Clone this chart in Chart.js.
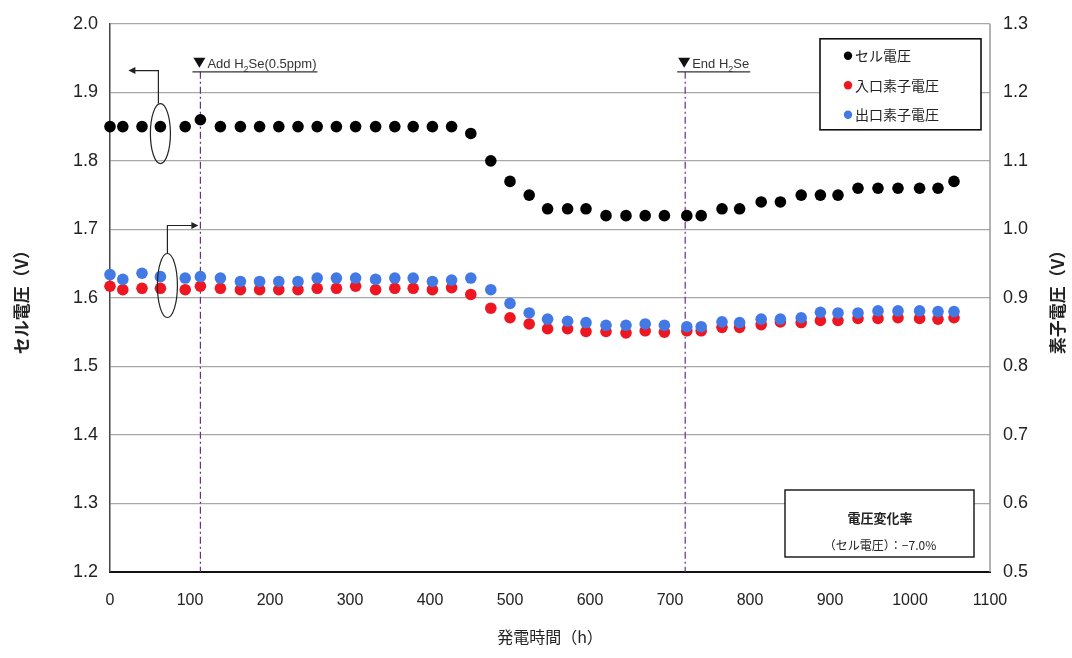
<!DOCTYPE html>
<html>
<head>
<meta charset="utf-8">
<script src="https://cdn.jsdelivr.net/npm/chart.js@4/dist/chart.umd.min.js"></script>
<style>
  html, body { margin: 0; padding: 0; background: #fff; }
  #wrap { width: 1072px; height: 658px; }
</style>
</head>
<body>
<div id="wrap"><canvas id="chart" width="1072" height="658"></canvas></div>
<script>
// ---------- datos ----------
const hours = [0, 16, 40, 63, 94, 113, 138, 163, 187, 211, 235, 259, 283, 307, 332, 356, 379, 403, 427,
  451, 476, 500, 524, 547, 572, 595, 620, 645, 669, 693, 721, 739, 765, 787, 814, 838, 864, 888, 910,
  935, 960, 985, 1012, 1035, 1055];

const cellVoltage = [1.85, 1.85, 1.85, 1.85, 1.85, 1.86, 1.85, 1.85, 1.85, 1.85, 1.85, 1.85, 1.85, 1.85,
  1.85, 1.85, 1.85, 1.85, 1.85, 1.84, 1.80, 1.77, 1.75, 1.73, 1.73, 1.73, 1.72, 1.72, 1.72, 1.72, 1.72,
  1.72, 1.73, 1.73, 1.74, 1.74, 1.75, 1.75, 1.75, 1.76, 1.76, 1.76, 1.76, 1.76, 1.77];

const inletVoltage = [0.917, 0.912, 0.914, 0.914, 0.912, 0.917, 0.914, 0.912, 0.912, 0.912, 0.912, 0.914,
  0.914, 0.917, 0.912, 0.914, 0.914, 0.912, 0.915, 0.905, 0.885, 0.871, 0.862, 0.855, 0.855, 0.851, 0.851,
  0.849, 0.852, 0.850, 0.852, 0.852, 0.857, 0.857, 0.861, 0.865, 0.864, 0.867, 0.867, 0.870, 0.870, 0.871,
  0.870, 0.869, 0.871];

const outletVoltage = [0.934, 0.927, 0.936, 0.931, 0.929, 0.931, 0.929, 0.924, 0.924, 0.924, 0.924, 0.929,
  0.929, 0.929, 0.927, 0.929, 0.929, 0.924, 0.926, 0.929, 0.912, 0.892, 0.878, 0.869, 0.866, 0.864, 0.860,
  0.860, 0.862, 0.860, 0.858, 0.858, 0.865, 0.864, 0.869, 0.869, 0.871, 0.879, 0.878, 0.878, 0.881, 0.881,
  0.881, 0.880, 0.880];

const seriesLabels = ['セル電圧', '入口素子電圧', '出口素子電圧'];
const seriesColors = ['#000000', '#ee1620', '#4279e4'];

const xTickRange = [0, 1100, 100];      // min, max, paso
const cellTickRange = [1.2, 2.0, 0.1];
const elemTickRange = [0.5, 1.3, 0.1];

const eventHours = [113, 719];
const eventTexts = [
  [['Add H', 0], ['2', 1], ['Se(0.5ppm)', 0]],
  [['End H', 0], ['2', 1], ['Se', 0]]
];
const rateTitle = '電圧変化率';
const rateText = '（セル電圧）：−7.0%';
const rightTitle = '素子電圧（V）';

const NUM_FONT = '"Liberation Sans Narrow", "Liberation Sans", Arial, sans-serif';
const JP_FONT = '"Noto Sans CJK JP", sans-serif';

const toPoints = (ys) => hours.map((h, i) => ({ x: h, y: ys[i] }));

// dibuja texto con subíndices
function drawParts(ctx, parts, x, y, size) {
  let cx = x;
  parts.forEach(([t, sub]) => {
    ctx.font = (sub ? size - 4 : size) + 'px ' + NUM_FONT;
    ctx.fillText(t, cx, sub ? y + 4 : y);
    cx += ctx.measureText(t).width;
  });
  return cx;
}

function arrowHead(ctx, x, y, dir) {
  ctx.beginPath();
  ctx.moveTo(x, y);
  ctx.lineTo(x - dir * 7, y - 3.5);
  ctx.lineTo(x - dir * 7, y + 3.5);
  ctx.closePath();
  ctx.fill();
}

const overlay = {
  id: 'overlay',
  beforeDatasetsDraw(chart) {
    const { ctx, chartArea, scales } = chart;
    ctx.save();
    // marco gris derecho
    ctx.strokeStyle = '#9a9a9a';
    ctx.lineWidth = 1.5;
    ctx.beginPath();
    ctx.moveTo(chartArea.right, chartArea.top);
    ctx.lineTo(chartArea.right, chartArea.bottom);
    ctx.stroke();

    // líneas de eventos
    ctx.strokeStyle = '#6b2d8c';
    ctx.lineWidth = 1.2;
    ctx.setLineDash([7, 3, 2, 3]);
    eventHours.forEach((h) => {
      const x = scales.x.getPixelForValue(h);
      ctx.beginPath();
      ctx.moveTo(x, chartArea.top + 48);
      ctx.lineTo(x, chartArea.bottom);
      ctx.stroke();
    });
    ctx.restore();
  },
  afterDraw(chart) {
    const { ctx, chartArea, scales } = chart;
    const xs = scales.x, yl = scales.y, yr = scales.y2;
    ctx.save();

    // título eje derecho (de abajo hacia arriba, como el izquierdo)
    ctx.save();
    ctx.translate(chart.width - 14, (chartArea.top + chartArea.bottom) / 2);
    ctx.rotate(-Math.PI / 2);
    ctx.font = 'bold 17px ' + JP_FONT;
    ctx.fillStyle = '#222';
    ctx.textAlign = 'center';
    ctx.textBaseline = 'middle';
    ctx.fillText(rightTitle, 0, 0);
    ctx.restore();

    // textos de eventos (subrayados)
    ctx.textBaseline = 'alphabetic';
    ctx.textAlign = 'left';
    eventHours.forEach((h, i) => {
      const x = xs.getPixelForValue(h);
      const x0 = x - 8;
      const y = chartArea.top + 44;
      // triángulo ▼
      ctx.fillStyle = '#111';
      ctx.beginPath();
      ctx.moveTo(x0 + 1, y - 10);
      ctx.lineTo(x0 + 13, y - 10);
      ctx.lineTo(x0 + 7, y);
      ctx.closePath();
      ctx.fill();
      ctx.fillStyle = '#333';
      const end = drawParts(ctx, eventTexts[i], x0 + 15, y, 13);
      ctx.strokeStyle = '#333';
      ctx.lineWidth = 1.3;
      ctx.beginPath();
      ctx.moveTo(x0, chartArea.top + 48);
      ctx.lineTo(end + 1, chartArea.top + 48);
      ctx.stroke();
    });

    // elipse y flecha -> eje izquierdo
    ctx.strokeStyle = '#222';
    ctx.fillStyle = '#222';
    ctx.lineWidth = 1.2;
    const px = xs.getPixelForValue(hours[3]);
    const cy1 = yl.getPixelForValue(cellVoltage[3]) + 7;
    ctx.beginPath();
    ctx.ellipse(px, cy1, 10, 30, 0, 0, Math.PI * 2);
    ctx.stroke();
    ctx.beginPath();
    ctx.moveTo(px - 2, cy1 - 30);
    ctx.lineTo(px - 2, cy1 - 63);
    ctx.lineTo(px - 28, cy1 - 63);
    ctx.stroke();
    arrowHead(ctx, px - 32, cy1 - 63, -1);

    // elipse y flecha -> eje derecho
    const cx2 = px + 7;
    const cy2 = (yr.getPixelForValue(inletVoltage[3]) + yr.getPixelForValue(outletVoltage[3])) / 2 + 3;
    ctx.beginPath();
    ctx.ellipse(cx2, cy2, 10, 32, 0, 0, Math.PI * 2);
    ctx.stroke();
    ctx.beginPath();
    ctx.moveTo(cx2, cy2 - 32);
    ctx.lineTo(cx2, cy2 - 60);
    ctx.lineTo(cx2 + 26, cy2 - 60);
    ctx.stroke();
    arrowHead(ctx, cx2 + 31, cy2 - 60, 1);

    // leyenda
    const lx = chartArea.right - 170, ly = chartArea.top + 15;
    ctx.fillStyle = '#fff';
    ctx.fillRect(lx, ly, 161, 91);
    ctx.strokeStyle = '#111';
    ctx.lineWidth = 1.6;
    ctx.strokeRect(lx, ly, 161, 91);
    ctx.textBaseline = 'middle';
    ctx.font = '14px ' + JP_FONT;
    seriesLabels.forEach((lab, i) => {
      const yy = ly + 17 + i * 29.5;
      ctx.fillStyle = seriesColors[i];
      ctx.beginPath();
      ctx.arc(lx + 28, yy, 4.2, 0, Math.PI * 2);
      ctx.fill();
      ctx.fillStyle = '#222';
      ctx.fillText(lab, lx + 35, yy);
    });

    // recuadro de tasa de cambio
    const bx = chartArea.right - 205, by = chartArea.bottom - 82;
    ctx.fillStyle = '#fff';
    ctx.fillRect(bx, by, 189, 67);
    ctx.strokeStyle = '#111';
    ctx.lineWidth = 1.4;
    ctx.strokeRect(bx, by, 189, 67);
    ctx.fillStyle = '#222';
    ctx.textAlign = 'center';
    ctx.font = 'bold 13px ' + JP_FONT;
    ctx.fillText(rateTitle, bx + 95, by + 28);
    ctx.font = '12px ' + JP_FONT;
    ctx.fillText(rateText, bx + 95, by + 55);

    ctx.restore();
  }
};

const tickFont = { family: NUM_FONT, size: 18 };
const titleFont = { family: JP_FONT, size: 17, weight: 'bold' };

new Chart(document.getElementById('chart'), {
  type: 'scatter',
  data: {
    datasets: [
      { label: seriesLabels[0], data: toPoints(cellVoltage), yAxisID: 'y', backgroundColor: seriesColors[0], order: 0, clip: false },
      { label: seriesLabels[1], data: toPoints(inletVoltage), yAxisID: 'y2', backgroundColor: seriesColors[1], order: 2, clip: false },
      { label: seriesLabels[2], data: toPoints(outletVoltage), yAxisID: 'y2', backgroundColor: seriesColors[2], order: 1, clip: false }
    ]
  },
  options: {
    responsive: false,
    animation: false,
    devicePixelRatio: 1,
    layout: { padding: { top: 20, left: 0, right: 0, bottom: 0 } },
    elements: { point: { radius: 5.8, borderWidth: 0, hoverRadius: 5.8 } },
    plugins: { legend: { display: false }, tooltip: { enabled: false } },
    scales: {
      x: {
        type: 'linear',
        min: xTickRange[0], max: xTickRange[1],
        ticks: { stepSize: xTickRange[2], color: '#222', font: { family: NUM_FONT, size: 16 }, padding: 19, maxRotation: 0, callback: (v) => String(v) },
        grid: { display: false, drawTicks: false },
        border: { display: true, color: '#111', width: 2 },
        title: { display: true, text: '発電時間（h）', color: '#222', font: { family: JP_FONT, size: 16 }, padding: { top: 0, bottom: 11 } },
        afterFit: (s) => { s.height = 86; }
      },
      y: {
        position: 'left',
        min: cellTickRange[0], max: cellTickRange[1],
        ticks: { stepSize: cellTickRange[2], color: '#222', font: tickFont, padding: 12, callback: (v) => v.toFixed(1) },
        grid: { color: '#a8a8a8', lineWidth: 1.3, drawTicks: false },
        border: { display: true, color: '#444', width: 1.5 },
        title: { display: true, text: 'セル電圧（V）', color: '#222', font: titleFont, padding: { top: 11, bottom: 0 } },
        afterFit: (s) => { s.width = 110; }
      },
      y2: {
        position: 'right',
        min: elemTickRange[0], max: elemTickRange[1],
        ticks: { stepSize: elemTickRange[2], color: '#222', font: tickFont, padding: 13, callback: (v) => v.toFixed(1) },
        grid: { display: false, drawTicks: false },
        border: { display: false },
        afterFit: (s) => { s.width = 82; }
      }
    }
  },
  plugins: [overlay]
});
</script>
</body>
</html>
